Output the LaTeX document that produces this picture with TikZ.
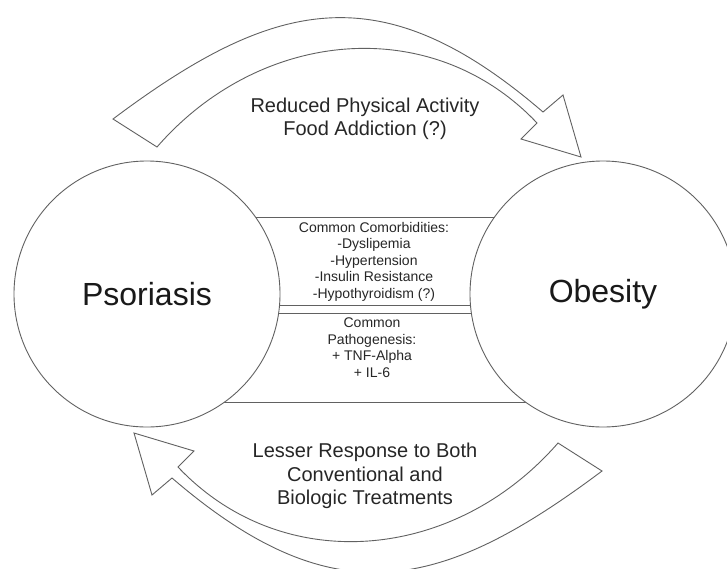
\documentclass[tikz,border=0pt]{standalone}
\usepackage{fontspec}
\setmainfont{Liberation Sans}
\begin{document}
\begin{tikzpicture}[x=1pt,y=-1pt,
  outline/.style={draw=black!62, line width=0.9pt},
  bigarrow/.style={outline, fill=white, line join=miter},
  disease/.style={circle, outline, fill=white, minimum size=266pt, inner sep=0pt,
    font=\fontsize{32}{36}\selectfont, text=black!90},
  biglabel/.style={align=center, font=\fontsize{20}{23.5}\selectfont, text=black!85},
  smalllabel/.style={align=center, font=\fontsize{14}{16.5}\selectfont, text=black!85}]
\useasboundingbox (0,0) rectangle (727,568);
\clip (0,0) rectangle (727,568);
% boxes between the circles
\draw[outline] (147,217) rectangle (603,305);
\draw[outline] (147,313) rectangle (603,402);
% circles
\node[disease] (pso) at (147,294) {Psoriasis};
\node[disease] (obe) at (603,294) {Obesity};
% top curved arrow
\draw[bigarrow] (113,119) .. controls (274.5,-2) and (381.5,-27) .. (543,112)
  -- (563,95) -- (581,157) -- (521,139) -- (537,123)
  .. controls (433,13) and (261,27.6) .. (157,147) -- cycle;
% bottom curved arrow (same shape turned round)
\draw[bigarrow, rotate around={180:(357.5,295)}] (113,119) .. controls (274.5,-2) and (381.5,-27) .. (543,112)
  -- (563,95) -- (581,157) -- (521,139) -- (537,123)
  .. controls (433,13) and (261,27.6) .. (157,147) -- cycle;
% labels
\node[biglabel] (toptxt) at (365,119) {Reduced Physical Activity\\Food Addiction (?)};
\node[biglabel] (bottxt) at (365,476) {Lesser Response to Both\\Conventional and\\Biologic Treatments};
\node[smalllabel] (comorb) at (374,261.5) {Common Comorbidities:\\-Dyslipemia\\-Hypertension\\-Insulin Resistance\\-Hypothyroidism (?)};
\node[smalllabel] (patho) at (372,347.5) {Common\\Pathogenesis:\\+ TNF-Alpha\\+ IL-6};
\end{tikzpicture}
\end{document}
